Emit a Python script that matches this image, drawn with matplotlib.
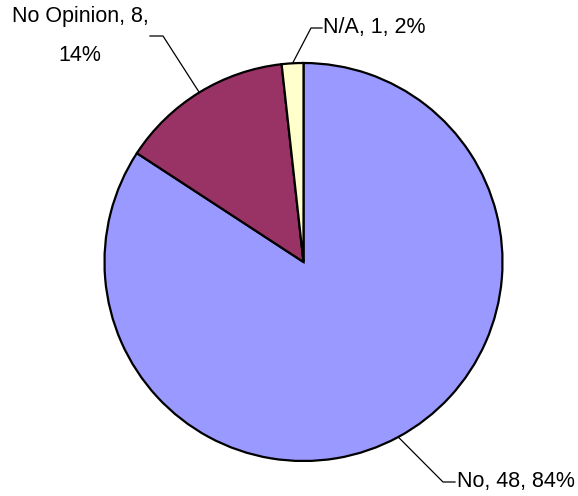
import numpy as np
import matplotlib
matplotlib.use("Agg")
import matplotlib.pyplot as plt

categories = ["No", "No Opinion", "N/A"]
values = [48, 8, 1]
colors = ["#9999FF", "#993366", "#FFFFCC"]

W, H = 578, 496
fig = plt.figure(figsize=(W / 100, H / 100), dpi=100)
ax = fig.add_axes([0, 0, 1, 1])

cx, cy, r = 303.5, H - 262, 199
wedges, _ = ax.pie(values, colors=colors, startangle=90, counterclock=False,
                   center=(cx, cy), radius=r,
                   wedgeprops=dict(edgecolor="black", linewidth=1.6))
ax.set_xlim(0, W)
ax.set_ylim(0, H)
ax.set_aspect("equal")
ax.axis("off")

total = sum(values)
pcts = [round(v / total * 100) for v in values]
label_texts = [f"{c}, {v}, {p}%" for c, v, p in zip(categories, values, pcts)]
label_texts[1] = f"{categories[1]}, {values[1]},\n{pcts[1]}%"

# label layout: (elbow x, elbow y, end x, text x, text y, ha)
layout = [
    (443, 482, 455, 457, 482, "left"),
    (163, 36, 150, 80, 36, "center"),
    (311, 28, 322, 323, 28, "left"),
]
font = dict(family=["Liberation Sans", "DejaVu Sans"], fontsize=15.5, color="black")
for w, txt, (ex, ey, endx, tx, ty, ha) in zip(wedges, label_texts, layout):
    mid = np.deg2rad((w.theta1 + w.theta2) / 2)
    sx, sy = cx + r * np.cos(mid), cy + r * np.sin(mid)
    ax.plot([sx, ex, endx], [sy, H - ey, H - ey], color="black", lw=0.9)
    ax.text(tx, H - ty, txt, ha=ha, va="center", linespacing=2.1, **font)

fig.savefig("out.png", dpi=100, facecolor="white")
